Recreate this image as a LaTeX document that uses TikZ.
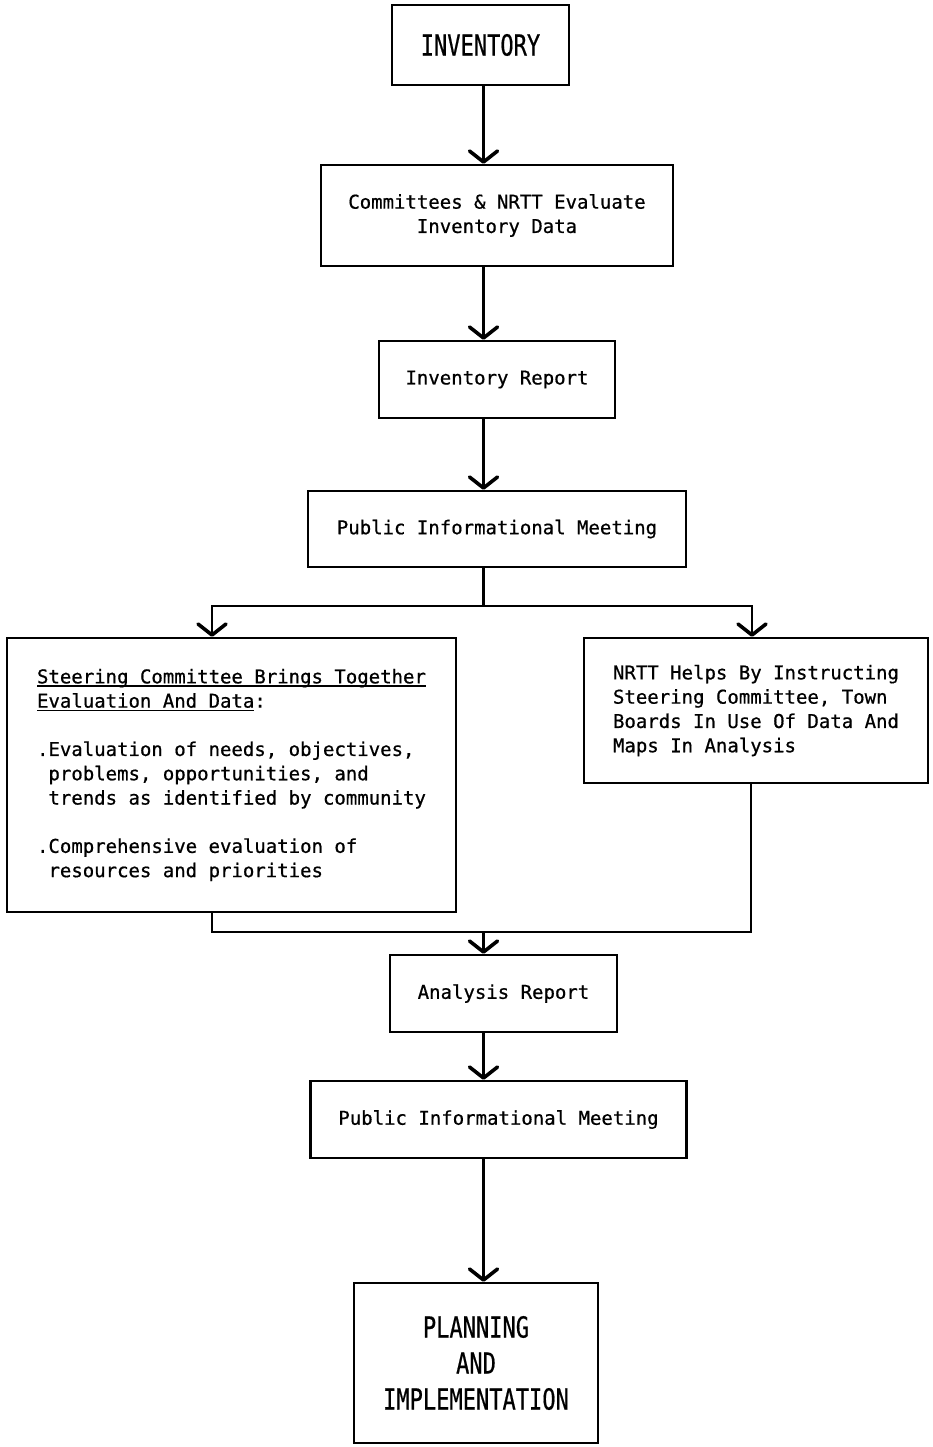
\documentclass[tikz,border=0pt]{standalone}
\usepackage{fontspec}
\setmonofont[FakeBold=0.7]{DejaVu Sans Mono}
\usepackage{graphicx}
\usetikzlibrary{arrows.meta}
\newcommand\bigtxt[1]{\scalebox{0.76}[1]{#1}}
\newcommand\uln[1]{\setbox0\hbox{#1}\rlap{\rule[-3.5pt]{\wd0}{1.5pt}}\box0}
\begin{document}
\begin{tikzpicture}[x=1pt,y=-1pt,
  box/.style={draw, line width=2.4pt, inner sep=0pt, align=center,
    font=\ttfamily\fontsize{19}{24.3}\selectfont},
  bigbox/.style={box, font=\ttfamily\fontsize{29}{36}\selectfont},
  conn/.style={line width=2.6pt},
  arr/.style={conn, -{Straight Barb[length=11pt,width=28pt,line width=3.6pt,round]}}]
\useasboundingbox (0,0) rectangle (932,1447);
\fill[white] (0,0) rectangle (932,1447);

\node[bigbox, minimum width=177pt, minimum height=80pt] (inv) at (480.5,45) {\bigtxt{INVENTORY}};
\node[box, minimum width=352pt, minimum height=101pt] (com) at (497,215.5) {Committees \& NRTT Evaluate\\Inventory Data};
\node[box, minimum width=236pt, minimum height=77pt] (rep) at (497,379.5) {Inventory Report};
\node[box, minimum width=378pt, minimum height=76pt] (pim1) at (497,529) {Public Informational Meeting};
\node[box, align=left, minimum width=449pt, minimum height=274pt] (left) at (231.5,775) {%
\uln{Steering Committee Brings Together}\\
\uln{Evaluation And Data}:\\[24pt]
.Evaluation of needs, objectives,\\
\hphantom{.}problems, opportunities, and\\
\hphantom{.}trends as identified by community\\[24pt]
.Comprehensive evaluation of\\
\hphantom{.}resources and priorities};
\node[box, align=left, minimum width=344pt, minimum height=145pt] (right) at (756,710.5) {%
NRTT Helps By Instructing\\
Steering Committee, Town\\
Boards In Use Of Data And\\
Maps In Analysis};
\node[box, minimum width=227pt, minimum height=77pt] (ana) at (503.5,993.5) {Analysis Report};
\node[box, minimum width=376pt, minimum height=77pt] (pim2) at (498.5,1119.5) {Public Informational Meeting};
\node[bigbox, minimum width=244pt, minimum height=160pt] (plan) at (476,1363) {\bigtxt{PLANNING}\\\bigtxt{AND}\\\bigtxt{IMPLEMENTATION}};

\coordinate (sp) at (483.5,0);
\coordinate (br) at (483.5,606);
\coordinate (bl) at (212,606);
\coordinate (brr) at (752,606);
\coordinate (ml) at (212,932);
\coordinate (mr) at (751,932);
\coordinate (mc) at (483.5,932);

\draw[arr] (inv.south -| sp) -- (com.north -| sp);
\draw[arr] (com.south -| sp) -- (rep.north -| sp);
\draw[arr] (rep.south -| sp) -- (pim1.north -| sp);
\draw[conn] (pim1.south -| br) -- (br);
\draw[arr] (br) -- (bl) -- (left.north -| bl);
\draw[arr] (br) -- (brr) -- (right.north -| brr);
\draw[conn] (left.south -| ml) -- (ml) -- (mr) -- (right.south -| mr);
\draw[arr] (mc) -- (ana.north -| mc);
\draw[arr] (ana.south -| sp) -- (pim2.north -| sp);
\draw[arr] (pim2.south -| sp) -- (plan.north -| sp);
\end{tikzpicture}
\end{document}
